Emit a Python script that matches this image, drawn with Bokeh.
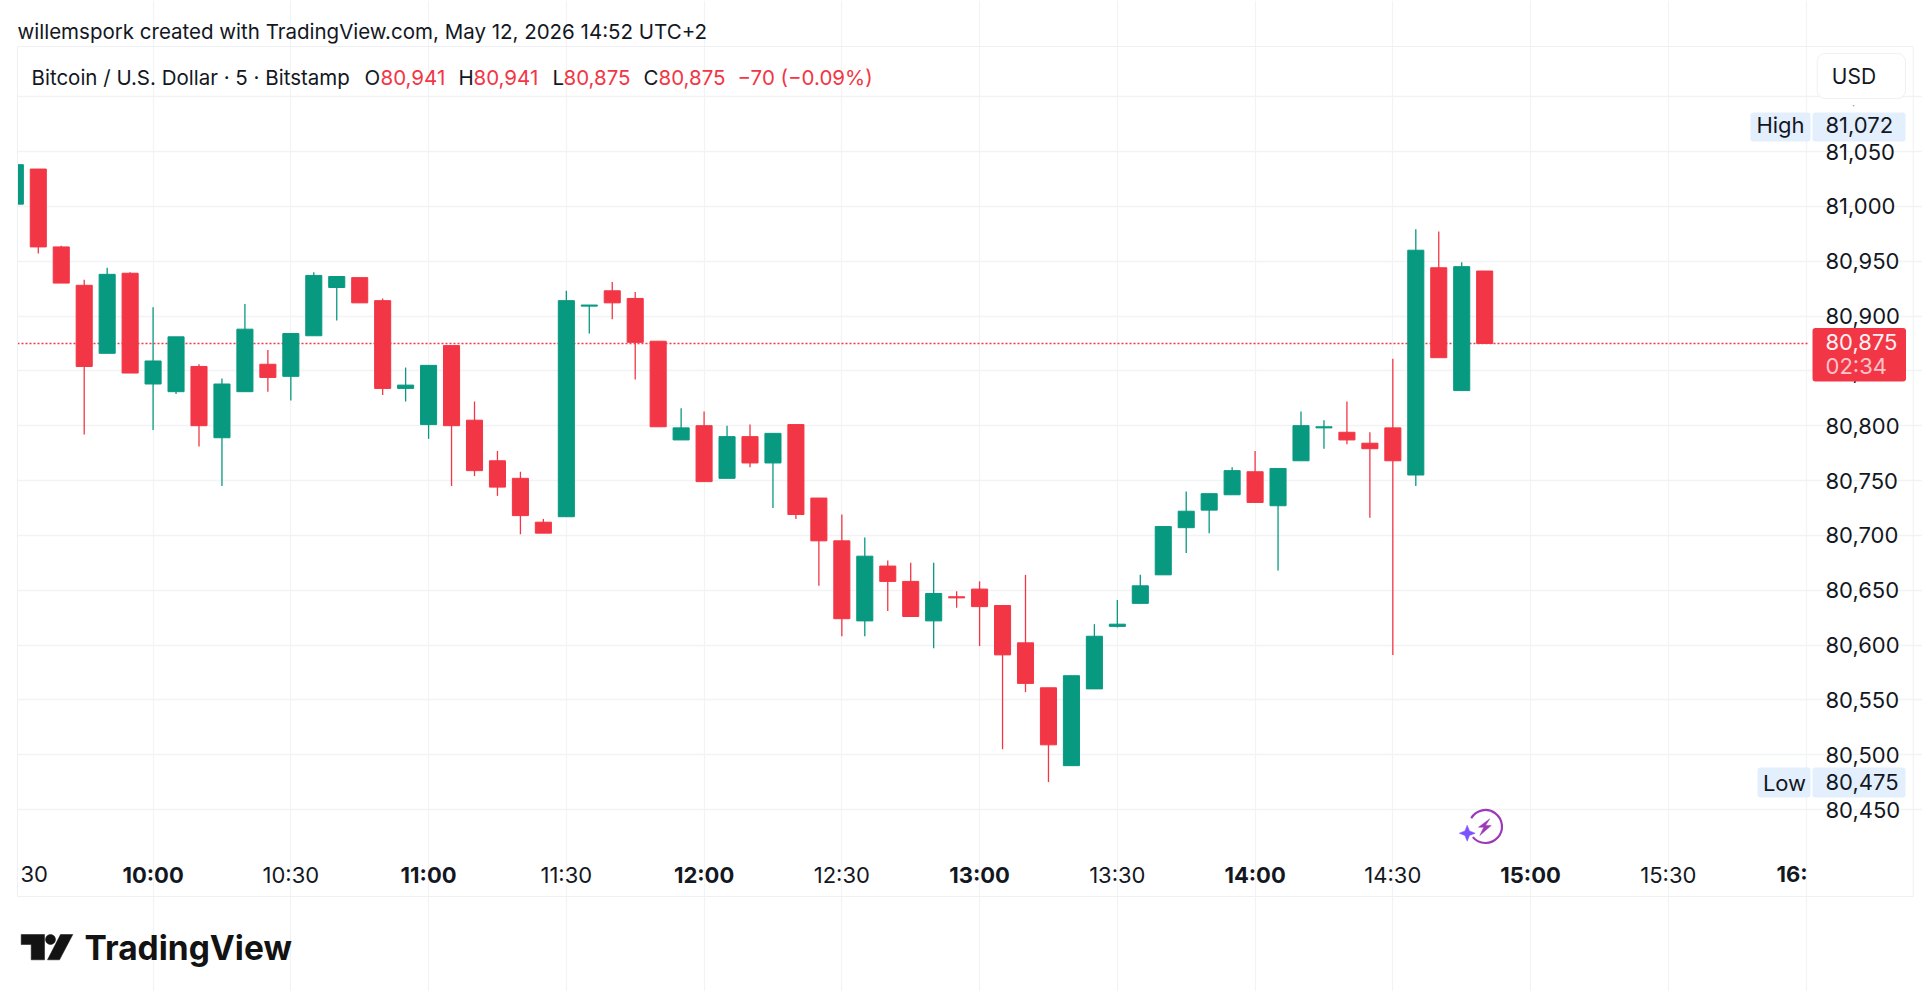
from math import radians, cos, sin, pi
from bokeh.plotting import figure
from bokeh.embed import file_html
from bokeh.resources import INLINE
from bokeh.models import (Range1d, FixedTicker, LinearAxis, Label, BoxAnnotation,
                          PolyAnnotation, ColumnDataSource)

# ---- data (minutes after midnight, 5-minute candles) ----
times = [570,575,580,585,590,595,600,605,610,615,620,625,630,635,640,645,650,655,660,665,
         670,675,680,685,690,695,700,705,710,715,720,725,730,735,740,745,750,755,760,765,
         770,775,780,785,790,795,800,805,810,815,820,825,830,835,840,845,850,855,860,865,
         870,875,880,885,890]
opens = [81002,81034,80963,80928,80866,80939,80838,80831,80854,80789,80831,80856,80845,80882,80926,80935,80914,80834,80801,80873,
         80805,80768,80752,80712,80717,80909,80923,80916,80877,80787,80800,80752,80790,80766,80801,80734,80695,80622,80672,80658,
         80622,80644,80651,80636,80602,80561,80490,80560,80617,80638,80664,80707,80723,80737,80758,80727,80768,80798,80794,80784,
         80798,80755,80944,80832,80941]
highs = [81038,81034,80964,80933,80944,80940,80908,80881,80856,80843,80911,80869,80884,80940,80936,80935,80916,80853,80855,80873,
         80822,80777,80758,80715,80923,80910,80931,80922,80877,80816,80813,80800,80801,80793,80801,80734,80719,80698,80677,80675,
         80675,80649,80658,80636,80664,80561,80572,80619,80641,80664,80708,80740,80738,80762,80777,80761,80813,80805,80822,80794,
         80861,80979,80977,80949,80941]
lows  = [81002,80957,80930,80792,80866,80848,80796,80829,80781,80745,80831,80831,80823,80882,80896,80912,80828,80822,80788,80745,
         80754,80736,80701,80702,80717,80884,80897,80842,80799,80787,80749,80752,80762,80725,80715,80654,80608,80608,80631,80626,
         80597,80634,80599,80505,80557,80475,80490,80560,80616,80638,80664,80684,80702,80737,80730,80668,80768,80779,80783,80716,
         80591,80745,80862,80832,80875]
closes= [81038,80963,80930,80854,80938,80848,80859,80881,80800,80838,80888,80844,80884,80937,80936,80912,80834,80837,80855,80800,
         80759,80744,80718,80702,80914,80910,80912,80876,80799,80798,80749,80790,80766,80793,80719,80695,80624,80681,80658,80626,
         80647,80643,80635,80591,80565,80509,80572,80608,80619,80654,80708,80722,80738,80759,80730,80761,80800,80799,80787,80779,
         80768,80960,80862,80945,80875]

price_ticks = [80450,80500,80550,80600,80650,80700,80750,80800,80850,80900,80950,81000,81050,81100]
price_labels = ["80,450","80,500","80,550","80,600","80,650","80,700","80,750","80,800","80,850","80,900","80,950","81,000","81,050",""]
hour_ticks = [600,660,720,780,840,900]
hour_labels = ["10:00","11:00","12:00","13:00","14:00","15:00"]
half_ticks = [630,690,750,810,870,930]
half_labels = ["10:30","11:30","12:30","13:30","14:30","15:30"]
last_price = 80875

# visible pane, in data units
PANE_T = (570.47, 960.3)
PANE_P = (80414.4, 81145.7)

UP = "#089981"
DOWN = "#F23645"
INK = "#131722"
FONT = "Inter"
TICK_PT = "22px"

colors = [UP if c >= o else DOWN for o, c in zip(opens, closes)]
src = ColumnDataSource(dict(t=times, o=opens, h=highs, l=lows, c=closes, col=colors))

W, H = 1922, 991
p = figure(width=W, height=H, output_backend="svg", toolbar_location=None,
           x_range=Range1d(566.77, 566.77 + W / 4.5917),
           y_range=Range1d(81187.69 - H / 1.0967, 81187.69),
           y_axis_location="right", min_border=0,
           background_fill_color="white", border_fill_color="white", outline_line_color=None)

# ---- axes, pinned to the edges of the pane ----
ax = p.xaxis[0]
ax.ticker = FixedTicker(ticks=hour_ticks)
ax.major_label_overrides = dict(zip(hour_ticks, hour_labels))
ax.major_label_text_font_style = "bold"
half = LinearAxis(ticker=FixedTicker(ticks=half_ticks),
                  major_label_overrides=dict(zip(half_ticks, half_labels)))
p.add_layout(half, "below")
for a in (ax, half):
    a.fixed_location = PANE_P[0]
    a.axis_line_color = None
    a.major_tick_line_color = None
    a.minor_tick_line_color = None
    a.major_tick_out = 0
    a.major_tick_in = 0
    a.major_label_standoff = 13
    a.major_label_text_font = FONT
    a.major_label_text_font_size = TICK_PT
    a.major_label_text_color = INK

ya = p.yaxis[0]
ya.fixed_location = PANE_T[1]
ya.ticker = FixedTicker(ticks=price_ticks)
ya.major_label_overrides = dict(zip(price_ticks, price_labels))
ya.axis_line_color = None
ya.major_tick_line_color = None
ya.minor_tick_line_color = None
ya.major_tick_out = 0
ya.major_tick_in = 0
ya.major_label_standoff = 18
ya.major_label_text_font = FONT
ya.major_label_text_font_size = TICK_PT
ya.major_label_text_color = INK

p.xgrid[0].ticker = FixedTicker(ticks=hour_ticks + half_ticks + [960])
p.xgrid[0].bounds = PANE_P
p.xgrid[0].grid_line_color = "#F2F3F5"
p.xgrid[0].grid_line_width = 1.2
p.ygrid[0].ticker = FixedTicker(ticks=price_ticks)
p.ygrid[0].bounds = PANE_T
p.ygrid[0].grid_line_color = "#F2F3F5"
p.ygrid[0].grid_line_width = 1.5

# ---- last price line ----
p.segment(x0=[PANE_T[0]], x1=[PANE_T[1]], y0=[last_price], y1=[last_price], line_color=DOWN,
          line_width=1.4, line_dash="2 2")

# ---- candles ----
p.segment(x0="t", x1="t", y0="l", y1="h", color="col", line_width=1.3, source=src)
p.vbar(x="t", width=3.5, top="o", bottom="c", fill_color="col", line_color="col",
       line_width=1, source=src)

LEVEL = "annotation"


# ---- furniture, given in page pixels ----
def box(l, t, r, b, fill=None, line=None, lw=1, rad=0):
    p.add_layout(BoxAnnotation(left=l, right=r, top=t, bottom=b,
                               left_units="canvas", right_units="canvas",
                               top_units="canvas", bottom_units="canvas",
                               fill_color=fill, fill_alpha=1 if fill else 0,
                               line_color=line, line_alpha=1 if line else 0, line_width=lw,
                               border_radius=rad, level=LEVEL, editable=False))


def text(s, x, y, size="20.5px", color=INK, align="left", style="normal"):
    p.add_layout(Label(x=x, y=y, x_units="canvas", y_units="canvas", text=s,
                       text_font=FONT, text_font_size=size, text_color=color,
                       text_align=align, text_baseline="middle", text_font_style=style,
                       level=LEVEL))


def poly(xs, ys, color):
    p.add_layout(PolyAnnotation(xs=list(xs), ys=list(ys),
                                xs_units="canvas", ys_units="canvas",
                                fill_color=color, fill_alpha=1, line_color=color, line_alpha=1,
                                line_width=0.5, level=LEVEL, editable=False))


# the pane cuts off the first candle on its left edge
box(0, 46, 17, 848, fill="white")
box(17, 46, 1912.7, 896, line="#EEF0F3")

text("willemspork created with TradingView.com, May 12, 2026 14:52 UTC+2", 17, 31)
text("Bitcoin / U.S. Dollar · 5 · Bitstamp", 31, 77)
for s, x in (("O", 364), ("H", 458), ("L", 552), ("C", 643)):
    text(s, x, 77)
for s, x in (("80,941", 380), ("80,941", 473), ("80,875", 563), ("80,875", 658), ("−70 (−0.09%)", 737)):
    text(s, x, 77, color=DOWN)

# time labels cut by the pane's edges
text("30", 20, 873, size=TICK_PT)
text("16:", 1776, 873, size=TICK_PT, style="bold")

# USD button
box(1816.7, 53, 1905, 98, fill="white", line="#EEF0F3", rad=8)
text("USD", 1853.5, 76, align="center", size="21px")
box(1852.3, 104.5, 1853.7, 105.7, fill="#9A9DA5")

# high / low / last tags
box(1750, 112, 1810, 141, fill="#E3EFFD", rad=3)
box(1812, 112, 1905, 141, fill="#E3EFFD", rad=3)
text("High", 1780, 124, align="center", size=TICK_PT)
text("81,072", 1825, 124, size=TICK_PT)
box(1757, 767, 1810, 797, fill="#E3EFFD", rad=3)
box(1812, 767, 1905, 797, fill="#E3EFFD", rad=3)
text("Low", 1784, 782, align="center", size=TICK_PT)
text("80,475", 1825, 781, size=TICK_PT)
box(1812, 327.5, 1905.5, 381, fill=DOWN, rad=3)
text("80,875", 1825, 341, color="#FFF0F1", size=TICK_PT)
text("02:34", 1825, 365, color="#FBC4CA", size=TICK_PT)

# purple snapshot icon
cx, cy = 1485, 826
px2t = lambda x: 600 + (x - 152.6) / 4.5917
px2p = lambda y: 81050 - (y - 151) / 1.0967
p.arc(x=[px2t(cx)], y=[px2p(cy)], radius=16.5, radius_units="screen",
      start_angle=radians(-140), end_angle=radians(150), line_color="#9C39B8", line_width=2.2)
poly([1489.3, 1478, 1483.3, 1479.3, 1490.7, 1485], [818.3, 826.7, 826.7, 835, 825, 825], "#9C39B8")
sx, sy = 1466.7, 832.7
poly([sx, sx + 2.3, sx + 8, sx + 2.3, sx, sx - 2.3, sx - 8, sx - 2.3],
     [sy - 8, sy - 2.3, sy, sy + 2.3, sy + 8, sy + 2.3, sy, sy - 2.3], "#7B52FF")

# TradingView logo
LOGO = "#131313"
poly([20.7, 44, 44, 30.7, 30.7, 20.7], [934, 934, 959.3, 959.3, 944, 944], LOGO)
poly([50 + 5 * cos(a * pi / 10) for a in range(20)],
     [939 + 5 * sin(a * pi / 10) for a in range(20)], LOGO)
poly([60, 72.3, 59, 47], [934, 934, 959.3, 959.3], LOGO)
text("TradingView", 84, 947, size="33.5px", color=LOGO, style="bold")

open("out.html", "w").write(file_html(p, INLINE))
